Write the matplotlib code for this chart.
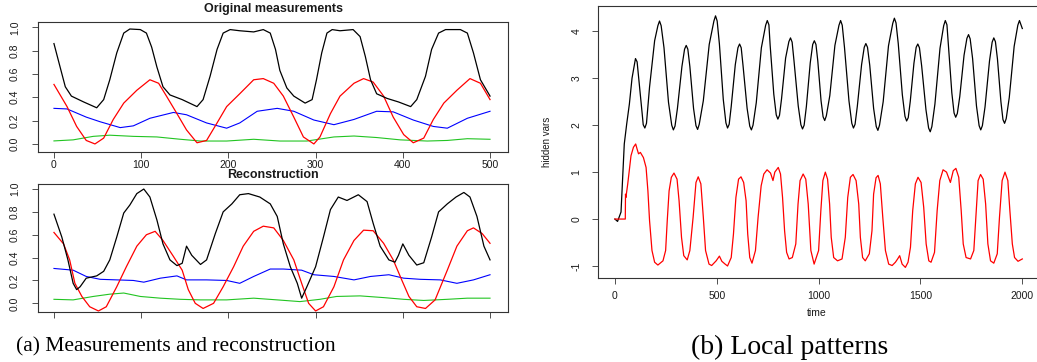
import matplotlib.pyplot as plt
import numpy as np

plt.rcParams["font.family"] = ["Liberation Sans", "DejaVu Sans"]

# ---- (a) original measurements ----
orig_black_x = [0, 7, 13, 20, 34, 49, 57, 64, 72, 80, 87, 99, 106, 112, 118, 125, 133, 147, 164, 171,
                179, 187, 194, 202, 213, 229, 240, 248, 254, 259, 267, 275, 288, 296, 301, 307, 313, 319,
                328, 343, 351, 357, 363, 370, 382, 395, 409, 416, 426, 433, 441, 449, 466, 474, 481, 489, 500]
orig_black = [0.86, 0.66, 0.49, 0.41, 0.36, 0.31, 0.38, 0.55, 0.78, 0.95, 0.985, 0.98, 0.95, 0.83, 0.66,
              0.49, 0.42, 0.38, 0.32, 0.38, 0.58, 0.81, 0.95, 0.98, 0.97, 0.96, 0.98, 0.95, 0.81, 0.63,
              0.48, 0.41, 0.35, 0.38, 0.55, 0.78, 0.95, 0.98, 0.97, 0.98, 0.92, 0.75, 0.55, 0.43, 0.39,
              0.36, 0.32, 0.38, 0.58, 0.81, 0.95, 0.98, 0.98, 0.95, 0.78, 0.55, 0.41]

orig_red_x = [0, 15, 26, 37, 47, 57, 68, 80, 95, 110, 120, 129, 141, 152, 164, 175, 187, 198, 213, 229,
              240, 252, 263, 275, 286, 298, 305, 317, 328, 344, 355, 366, 378, 389, 401, 412, 424, 435,
              447, 462, 477, 489, 500]
orig_red = [0.51, 0.32, 0.15, 0.03, 0.0, 0.05, 0.21, 0.35, 0.46, 0.55, 0.52, 0.41, 0.26, 0.12, 0.01,
            0.03, 0.18, 0.32, 0.43, 0.55, 0.56, 0.52, 0.41, 0.23, 0.06, 0.0, 0.06, 0.26, 0.41, 0.52,
            0.56, 0.53, 0.41, 0.23, 0.08, 0.01, 0.05, 0.21, 0.35, 0.46, 0.56, 0.52, 0.38]

orig_blue_x = [0, 15, 37, 53, 76, 91, 110, 137, 152, 175, 198, 213, 233, 256, 275, 298, 321, 344, 370,
               389, 412, 435, 451, 474, 500]
orig_blue = [0.305, 0.30, 0.23, 0.19, 0.14, 0.155, 0.22, 0.27, 0.25, 0.18, 0.135, 0.18, 0.28, 0.305,
             0.28, 0.205, 0.165, 0.21, 0.28, 0.275, 0.205, 0.15, 0.135, 0.22, 0.28]

orig_green_x = [0, 22, 45, 64, 91, 118, 145, 168, 198, 229, 259, 290, 321, 344, 370, 397, 428, 451, 474, 500]
orig_green = [0.026, 0.035, 0.065, 0.075, 0.065, 0.06, 0.04, 0.025, 0.025, 0.04, 0.025, 0.025, 0.06,
              0.068, 0.055, 0.035, 0.025, 0.03, 0.045, 0.04]

# ---- (a) reconstruction ----
rec_black_x = [0, 9, 16, 22, 26, 30, 37, 49, 57, 64, 72, 80, 87, 95, 103, 110, 118, 125, 133, 141,
               147, 152, 158, 168, 175, 185, 194, 204, 213, 223, 236, 248, 256, 263, 271, 279, 284, 290,
               300, 309, 317, 326, 336, 349, 359, 366, 374, 384, 391, 395, 400, 407, 416, 424, 433, 441,
               451, 461, 470, 477, 485, 493, 500]
rec_black = [0.78, 0.58, 0.38, 0.175, 0.12, 0.145, 0.22, 0.24, 0.28, 0.38, 0.58, 0.79, 0.86, 0.96, 1.0,
             0.93, 0.73, 0.52, 0.38, 0.33, 0.35, 0.50, 0.42, 0.34, 0.38, 0.61, 0.80, 0.87, 0.95, 0.96,
             0.93, 0.87, 0.76, 0.52, 0.32, 0.175, 0.045, 0.145, 0.32, 0.58, 0.82, 0.93, 0.90, 0.95, 0.89,
             0.70, 0.50, 0.38, 0.36, 0.42, 0.52, 0.42, 0.335, 0.355, 0.58, 0.80, 0.87, 0.93, 0.97, 0.93,
             0.76, 0.50, 0.38]

rec_red_x = [0, 11, 18, 24, 32, 41, 51, 60, 72, 83, 95, 106, 116, 125, 137, 147, 154, 162, 171, 183,
             194, 206, 217, 229, 240, 252, 263, 275, 284, 292, 300, 309, 321, 332, 344, 355, 366, 378,
             389, 399, 407, 416, 426, 437, 451, 462, 474, 481, 491, 500]
rec_red = [0.62, 0.52, 0.38, 0.175, 0.06, -0.03, -0.067, -0.03, 0.145, 0.32, 0.50, 0.60, 0.63, 0.55,
           0.41, 0.29, 0.12, 0.0, -0.045, 0.0, 0.145, 0.32, 0.50, 0.63, 0.675, 0.66, 0.55, 0.38, 0.175,
           0.0, -0.067, -0.03, 0.145, 0.38, 0.55, 0.64, 0.635, 0.525, 0.38, 0.20, 0.06, -0.03, -0.045,
           0.03, 0.29, 0.50, 0.635, 0.66, 0.61, 0.525]

rec_blue_x = [0, 22, 37, 53, 72, 91, 103, 122, 141, 152, 175, 198, 213, 229, 248, 263, 284, 298, 321,
              344, 363, 384, 401, 420, 443, 462, 481, 500]
rec_blue = [0.305, 0.29, 0.235, 0.21, 0.205, 0.20, 0.185, 0.22, 0.24, 0.205, 0.205, 0.20, 0.175, 0.235,
            0.30, 0.30, 0.29, 0.25, 0.235, 0.205, 0.235, 0.25, 0.22, 0.21, 0.205, 0.175, 0.205, 0.25]

rec_green_x = [0, 22, 45, 64, 80, 99, 122, 145, 168, 198, 229, 256, 282, 305, 324, 351, 378, 401, 424,
               451, 474, 500]
rec_green = [0.035, 0.03, 0.06, 0.08, 0.09, 0.06, 0.045, 0.035, 0.03, 0.03, 0.045, 0.03, 0.015, 0.035,
             0.06, 0.065, 0.05, 0.035, 0.025, 0.035, 0.045, 0.045]

# ---- (b) hidden variables ----
hid_black_t = [0, 13, 30, 46, 58, 71, 84, 101, 109, 117,
               134, 139, 147, 155, 170, 195, 211, 219, 227, 241,
               263, 279, 287, 295, 307, 329, 342, 350, 358, 368,
               386, 398, 406, 414, 434, 463, 486, 494, 502, 513,
               532, 545, 553, 561, 571, 591, 604, 612, 620, 629,
               649, 662, 670, 678, 694, 719, 740, 748, 756, 762,
               780, 792, 800, 808, 818, 838, 854, 862, 870, 879,
               900, 913, 921, 929, 940, 959, 971, 979, 987, 996,
               1012, 1022, 1030, 1038, 1055, 1080, 1100, 1108, 1116, 1127,
               1149, 1163, 1171, 1179, 1190, 1211, 1224, 1232, 1240, 1251,
               1270, 1283, 1291, 1299, 1317, 1343, 1364, 1372, 1380, 1391,
               1411, 1424, 1432, 1440, 1450, 1468, 1479, 1487, 1495, 1506,
               1527, 1540, 1548, 1556, 1571, 1596, 1614, 1622, 1630, 1637,
               1654, 1665, 1673, 1681, 1693, 1714, 1728, 1736, 1744, 1756,
               1775, 1788, 1796, 1804, 1817, 1839, 1852, 1860, 1868, 1878,
               1895, 1905, 1913, 1921, 1936, 1960, 1978, 1986, 2000]
hid_black = [0.0, -0.05, 0.15, 1.6, 2.03, 2.45, 3.0, 3.42, 3.35, 3.0,
             2.24, 2.01, 1.94, 2.04, 2.81, 3.8, 4.12, 4.22, 4.12, 3.65,
             2.49, 2.0, 1.9, 1.98, 2.36, 3.25, 3.62, 3.7, 3.62, 3.25,
             2.36, 1.99, 1.91, 2.02, 2.52, 3.72, 4.22, 4.33, 4.22, 3.73,
             2.55, 2.05, 1.94, 2.02, 2.40, 3.29, 3.65, 3.73, 3.65, 3.27,
             2.36, 1.98, 1.9, 2.0, 2.48, 3.65, 4.13, 4.23, 4.14, 3.71,
             2.66, 2.22, 2.13, 2.21, 2.56, 3.43, 3.78, 3.86, 3.77, 3.38,
             2.41, 2.01, 1.92, 2.0, 2.40, 3.33, 3.72, 3.8, 3.72, 3.37,
             2.52, 2.18, 2.1, 2.2, 2.63, 3.70, 4.13, 4.23, 4.13, 3.66,
             2.52, 2.04, 1.94, 2.02, 2.40, 3.29, 3.66, 3.74, 3.66, 3.28,
             2.36, 1.97, 1.89, 2.0, 2.50, 3.69, 4.17, 4.28, 4.18, 3.74,
             2.65, 2.19, 2.09, 2.16, 2.51, 3.32, 3.66, 3.73, 3.65, 3.26,
             2.33, 1.94, 1.86, 1.97, 2.45, 3.64, 4.12, 4.23, 4.14, 3.72,
             2.69, 2.26, 2.17, 2.25, 2.61, 3.49, 3.85, 3.93, 3.84, 3.42,
             2.41, 1.99, 1.9, 1.99, 2.39, 3.37, 3.77, 3.86, 3.78, 3.41,
             2.50, 2.12, 2.04, 2.14, 2.59, 3.68, 4.13, 4.23, 4.06]

hid_red_t = [0, 30, 51, 52, 54, 63, 79, 91, 102, 109, 116, 125, 140, 153, 162, 170, 182, 195, 211, 236,
             249, 257, 266, 277, 290, 305, 315, 327, 338, 355, 368, 384, 398, 409, 422, 434, 445, 462,
             475, 497, 513, 525, 541, 553, 571, 582, 594, 607, 619, 632, 644, 652, 662, 673, 690, 703,
             718, 731, 747, 764, 776, 785, 802, 813, 823, 833, 843, 855, 871, 888, 899, 909, 924, 937,
             949, 962, 978, 1000, 1011, 1021, 1033, 1044, 1054, 1062, 1074, 1093, 1115, 1131, 1143,
             1156, 1169, 1184, 1197, 1205, 1216, 1229, 1249, 1262, 1270, 1282, 1292, 1303, 1315, 1328,
             1344, 1361, 1377, 1388, 1398, 1410, 1426, 1439, 1451, 1462, 1475, 1488, 1503, 1516, 1528,
             1541, 1552, 1569, 1582, 1595, 1611, 1628, 1647, 1661, 1674, 1688, 1700, 1710, 1724, 1746,
             1762, 1774, 1783, 1795, 1808, 1820, 1831, 1844, 1860, 1877, 1888, 1901, 1915, 1929, 1939,
             1951, 1962, 1979, 2000]
hid_red = [0.0, 0.0, 0.0, 0.53, 0.46, 0.75, 1.35, 1.53, 1.6, 1.49, 1.39, 1.42, 1.31, 1.1, 0.6, -0.03,
           -0.67, -0.92, -0.98, -0.89, -0.67, -0.03, 0.6, 0.89, 0.98, 0.85, 0.39, -0.39, -0.78, -0.87,
           -0.67, 0.04, 0.78, 0.9, 0.75, 0.04, -0.67, -0.96, -0.99, -0.89, -0.79, -0.9, -0.96, -1.0,
           -0.82, -0.32, 0.46, 0.85, 0.9, 0.78, 0.39, -0.32, -0.82, -0.94, -0.67, 0.04, 0.71, 0.96,
           1.05, 0.98, 0.82, 1.0, 1.1, 0.96, 0.46, -0.25, -0.71, -0.85, -0.82, -0.53, 0.32, 0.82, 0.96,
           0.85, 0.32, -0.67, -0.96, -0.67, 0.18, 0.82, 1.0, 0.85, 0.32, -0.39, -0.82, -0.89, -0.85,
           -0.39, 0.46, 0.89, 0.95, 0.82, 0.32, -0.39, -0.82, -0.89, -0.74, -0.25, 0.53, 0.88, 0.93,
           0.75, 0.04, -0.67, -0.96, -0.99, -0.92, -0.85, -0.78, -0.96, -1.03, -0.92, -0.6, 0.18, 0.75,
           0.89, 0.78, 0.25, -0.53, -0.89, -0.92, -0.71, 0.18, 0.82, 1.05, 1.0, 0.78, 1.03, 1.08, 0.89,
           0.18, -0.53, -0.82, -0.85, -0.67, 0.18, 0.82, 0.95, 0.85, 0.32, -0.53, -0.89, -0.94, -0.74,
           0.04, 0.82, 1.0, 0.82, 0.18, -0.53, -0.82, -0.9, -0.85]

GREEN = "#22c422"
TEXT = "#1a1a1a"


def style_axes(ax, xticks, yticks, ylabels, show_xlabels=True, xpad=1, ypad=8.5):
    for spine in ax.spines.values():
        spine.set_linewidth(0.8)
        spine.set_color("#333333")
    ax.set_xticks(xticks)
    ax.set_yticks(yticks)
    ax.set_yticklabels(ylabels, rotation=90, va="center")
    ax.tick_params(direction="out", length=4.5, width=0.6, labelsize=7.5,
                   color="#333333", labelcolor=TEXT)
    ax.tick_params(axis="x", pad=xpad, labelbottom=show_xlabels)
    ax.tick_params(axis="y", pad=ypad)


fig = plt.figure(figsize=(10.37, 3.62), dpi=100)
W, H = 1037.0, 362.0

# Original measurements
ax1 = fig.add_axes([38 / W, 1 - 152 / H, 470 / W, 130 / H])
ax1.plot(orig_blue_x, orig_blue, color="blue", lw=0.8)
ax1.plot(orig_green_x, orig_green, color=GREEN, lw=0.8)
ax1.plot(orig_red_x, orig_red, color="red", lw=0.9)
ax1.plot(orig_black_x, orig_black, color="black", lw=0.9)
ax1.set_xlim(-18.3, 520.6)
ax1.set_ylim(-0.069, 1.045)
style_axes(ax1, [0, 100, 200, 300, 400, 500], np.arange(0, 1.01, 0.2),
           ["0.0", "0.2", "0.4", "0.6", "0.8", "1.0"])
fig.text(273 / W, 1 - 9 / H, "Original measurements", ha="center", va="center",
         fontsize=9, fontweight="bold", color=TEXT)

# Reconstruction
ax2 = fig.add_axes([38 / W, 1 - 312 / H, 470 / W, 128 / H])
ax2.plot(rec_blue_x, rec_blue, color="blue", lw=0.8)
ax2.plot(rec_green_x, rec_green, color=GREEN, lw=0.8)
ax2.plot(rec_red_x, rec_red, color="red", lw=0.9)
ax2.plot(rec_black_x, rec_black, color="black", lw=0.9)
ax2.set_xlim(-18.3, 520.6)
ax2.set_ylim(-0.076, 1.044)
style_axes(ax2, [0, 100, 200, 300, 400, 500], np.arange(0, 1.01, 0.2),
           ["0.0", "0.2", "0.4", "0.6", "0.8", "1.0"], show_xlabels=False)
fig.text(273 / W, 1 - 175 / H, "Reconstruction", ha="center", va="center",
         fontsize=9, fontweight="bold", color=TEXT)

# Local patterns
ax3 = fig.add_axes([598 / W, 1 - 278 / H, 440.6 / W, 272 / H])
ax3.plot(hid_black_t, hid_black, color="black", lw=0.9)
ax3.plot(hid_red_t, hid_red, color="red", lw=0.9)
ax3.set_xlim(-83, 2080)
ax3.set_ylim(-1.256, 4.54)
style_axes(ax3, [0, 500, 1000, 1500, 2000], [-1, 0, 1, 2, 3, 4],
           ["-1", "0", "1", "2", "3", "4"], xpad=5, ypad=7.5)
fig.text(547 / W, 1 - 142 / H, "hidden vars", rotation=90, ha="center", va="center",
         fontsize=7, color=TEXT)
fig.text(817 / W, 1 - 313 / H, "time", ha="center", va="center", fontsize=7.5, color=TEXT)

# Captions
fig.text(176 / W, 1 - 347 / H, "(a) Measurements and reconstruction", ha="center", va="center",
         family=["Liberation Serif", "DejaVu Serif"], fontsize=15.5, color="black")
fig.text(790 / W, 1 - 347 / H, "(b) Local patterns", ha="center", va="center",
         family=["Liberation Serif", "DejaVu Serif"], fontsize=20, color="black")

fig.savefig("out.png", dpi=100)
plt.close()
